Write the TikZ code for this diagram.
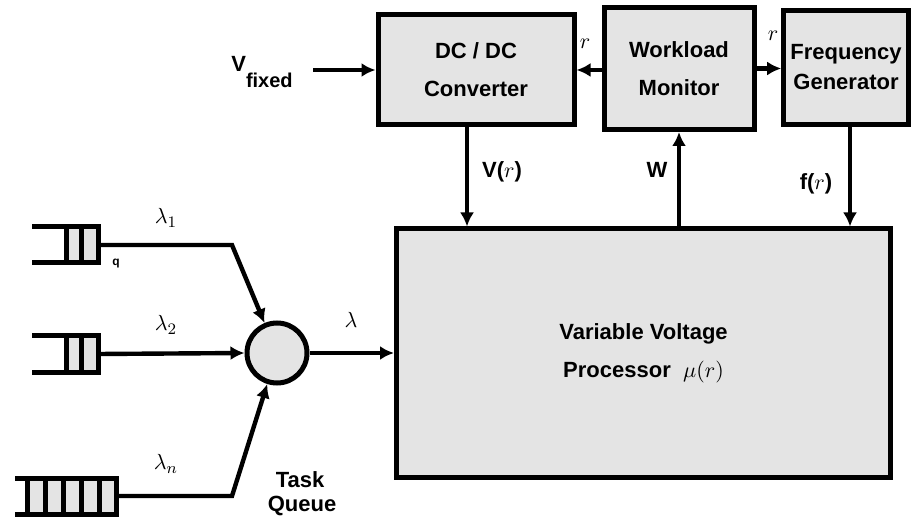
\documentclass[tikz,border=0pt]{standalone}
\usepackage{fontspec}
\setmainfont{Liberation Sans}
\usepackage{amsmath}
\usetikzlibrary{arrows.meta}
\definecolor{boxgray}{HTML}{E4E4E4}
\tikzset{
    block/.style={draw, rectangle, fill=boxgray, line width=2.5pt, align=center, font=\bfseries\fontsize{11}{19}\selectfont},
    arr/.style={-{Latex[length=7pt,width=7pt]}, line width=2.2pt},
    qline/.style={line width=2.5pt},
    lbl/.style={font=\bfseries\fontsize{11}{13}\selectfont}
}

\begin{document}
\begin{tikzpicture}[x=0.5pt,y=-0.5pt]
        \useasboundingbox (0,0) rectangle (913,517);

        % Blocks on top
        \node [block, minimum width=98pt, minimum height=55pt] (dcdc) at (476,70) {DC / DC\\Converter};
        \node [block, minimum width=75pt, minimum height=61pt] (wmon) at (679,68.5) {Workload\\Monitor};
        \node [block, minimum width=62pt, minimum height=57pt, font=\bfseries\fontsize{11}{15}\selectfont] (fgen) at (846,67.5) {Frequency\\Generator};

        % The processor
        \node [block, minimum width=247pt, minimum height=124pt] (proc) at (643.5,353) {Variable Voltage\\Processor \ $\mu(r)$};

        % Merging point of the task queues
        \node [draw, circle, fill=boxgray, line width=2.5pt, minimum size=30pt, inner sep=0pt] (merge) at (277,353) {};

        % Task queues
        \draw [qline] (66,227) -- (32,227) (32,263) -- (66,263);
        \filldraw [qline, fill=boxgray] (66,227) rectangle (98,263);
        \draw [qline] (81,227) -- (81,263);
        \coordinate (q1) at (98,245);

        \draw [qline] (66,336) -- (32,336) (32,372) -- (66,372);
        \filldraw [qline, fill=boxgray] (66,336) rectangle (98,372);
        \draw [qline] (81,336) -- (81,372);
        \coordinate (q2) at (98,354);

        \draw [qline] (27,478) -- (15,478) (15,514) -- (27,514);
        \filldraw [qline, fill=boxgray] (27,478) rectangle (116,514);
        \foreach \x in {45,63,81,99}
            \draw [qline] (\x,478) -- (\x,514);
        \coordinate (q3) at (116,496);

        % Input
        \coordinate (vin) at (313,70);
        \node [lbl] (vfix) at (262,72) {V\raisebox{-1.4ex}{\fontsize{10}{12}\selectfont fixed}};

        % Arrows
        \draw [arr] (vin) -- (dcdc.west |- vin);
        \draw [arr] (wmon.west |- dcdc.east) -- (dcdc.east);
        \draw [arr] (wmon.east) -- (fgen.west |- wmon.east);
        \draw [arr] ([xshift=-4.5pt]dcdc.south) -- ([xshift=-4.5pt]dcdc.south |- proc.north);
        \draw [arr] (wmon.south |- proc.north) -- (wmon.south);
        \draw [arr] ([xshift=2pt]fgen.south) -- ([xshift=2pt]fgen.south |- proc.north);
        \draw [arr] (merge.east) -- (proc.west);
        \draw [arr] (q1) -- ++(134,0) -- (merge);
        \draw [arr] (q2) -- (merge.west);
        \draw [arr] (q3) -- ++(116,0) -- (merge);

        % Labels
        \node [lbl] (lr1) at (585,44) {$r$};
        \node [lbl] (lr2) at (773,36) {$r$};
        \node [lbl] (lvr) at (502,172) {V($r$)};
        \node [lbl] (lw) at (657,170) {W};
        \node [lbl] (lfr) at (816,184) {f($r$)};
        \node [lbl] (lam) at (351,320) {$\lambda$};
        \node [lbl] (lam1) at (166,218) {$\lambda_{1}$};
        \node [lbl] (lam2) at (166,325) {$\lambda_{2}$};
        \node [lbl] (lamn) at (166,464) {$\lambda_{n}$};
        \node [lbl, font=\bfseries\fontsize{6}{7}\selectfont] (qmark) at (116,264) {q};
        \node [lbl] (task) at (300,480) {Task};
        \node [lbl] (queue) at (302,506) {Queue};
\end{tikzpicture}
\end{document}
